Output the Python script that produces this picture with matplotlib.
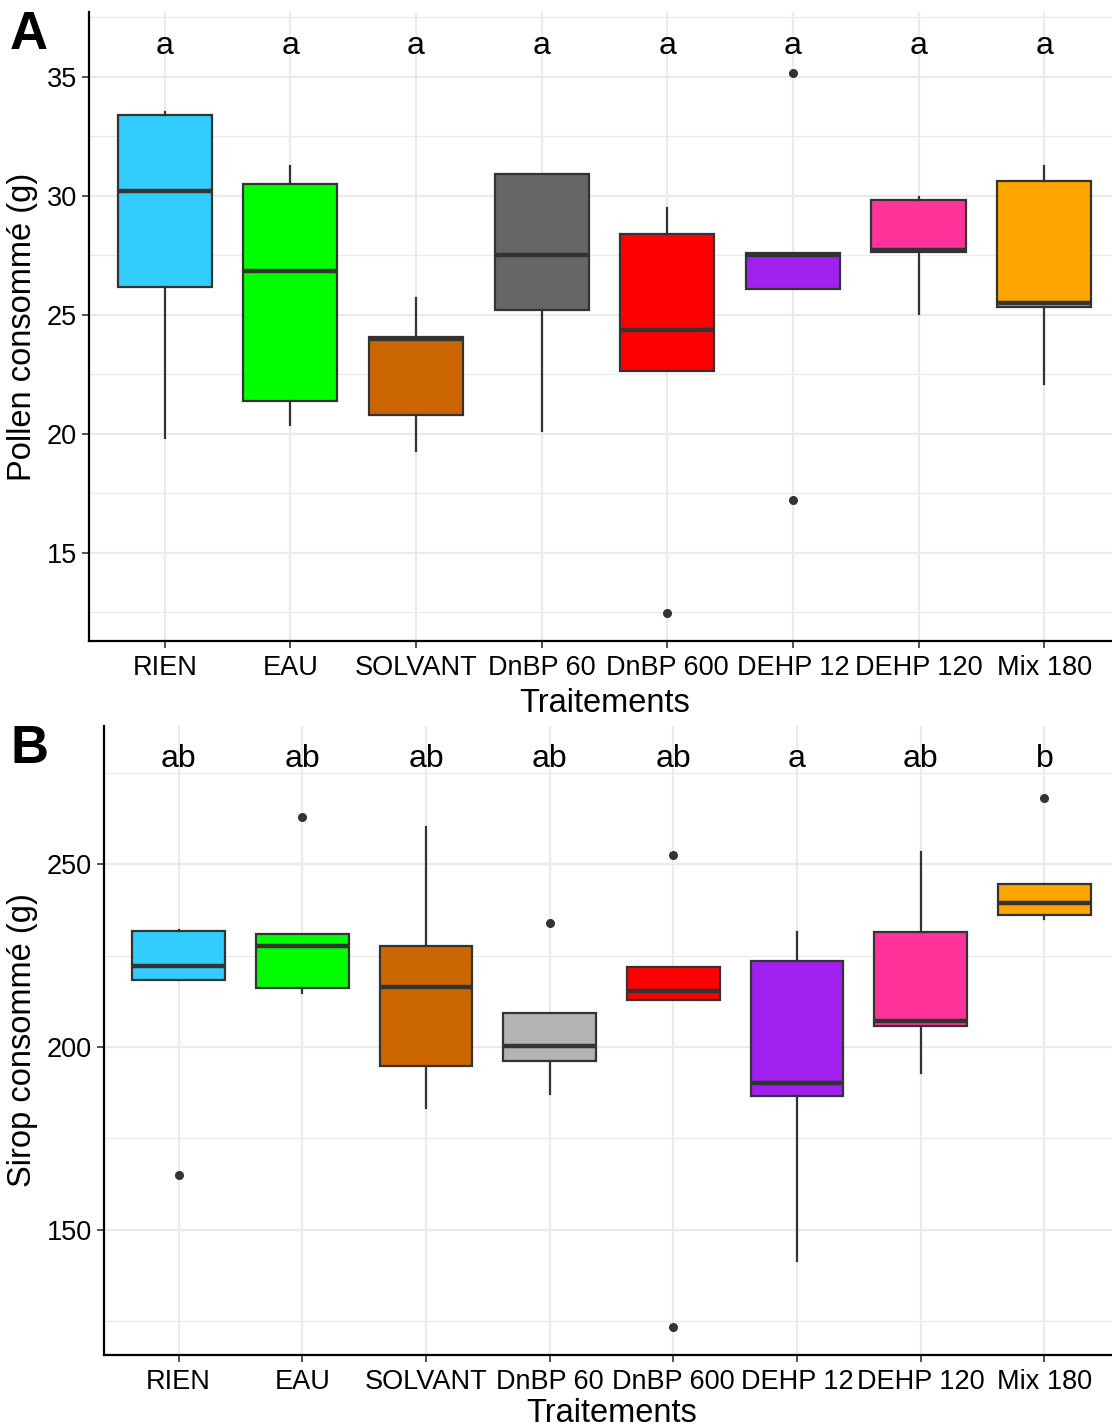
import matplotlib
matplotlib.use("Agg")
import matplotlib.pyplot as plt
from matplotlib.ticker import MultipleLocator

plt.rcParams['font.family'] = ['Liberation Sans', 'DejaVu Sans']

categories = ["RIEN", "EAU", "SOLVANT", "DnBP 60", "DnBP 600", "DEHP 12", "DEHP 120", "Mix 180"]
colors_A = ["#33CCFF", "#00FF00", "#CC6600", "#666666", "#FF0000", "#A020F0", "#FF3399", "#FFA500"]
colors_B = ["#33CCFF", "#00FF00", "#CC6600", "#B3B3B3", "#FF0000", "#A020F0", "#FF3399", "#FFA500"]

# Panel A : Pollen consommé (g)
pollen_whislo = [19.85, 20.38, 19.27, 20.11, 22.66, 26.08, 25.02, 22.10]
pollen_q1     = [26.19, 21.39, 20.80, 25.21, 22.66, 26.08, 27.63, 25.35]
pollen_med    = [30.19, 26.83, 24.00, 27.50, 24.38, 27.53, 27.74, 25.52]
pollen_q3     = [33.42, 30.50, 24.06, 30.92, 28.41, 27.60, 29.81, 30.62]
pollen_whishi = [33.53, 31.24, 25.70, 30.92, 29.50, 27.60, 29.95, 31.24]
pollen_fliers = [[], [], [], [], [12.47], [35.16, 17.23], [], []]
letters_A = ["a", "a", "a", "a", "a", "a", "a", "a"]

# Panel B : Sirop consommé (g)
sirop_whislo = [218.3, 214.8, 183.4, 187.2, 212.7, 141.4, 192.9, 234.9]
sirop_q1     = [218.3, 216.1, 194.9, 196.2, 212.7, 186.5, 205.7, 236.2]
sirop_med    = [222.2, 227.5, 216.5, 200.3, 215.2, 190.2, 207.0, 239.3]
sirop_q3     = [231.6, 231.0, 227.7, 209.3, 221.8, 223.4, 231.3, 244.7]
sirop_whishi = [231.9, 231.0, 260.2, 209.3, 221.8, 231.5, 253.3, 244.7]
sirop_fliers = [[165.05], [262.9], [], [234.0], [252.5, 123.4], [], [], [268.1]]
letters_B = ["ab", "ab", "ab", "ab", "ab", "a", "ab", "b"]

fig = plt.figure(figsize=(11.12, 14.27), dpi=100)

W, H = 1112.0, 1427.0
def axes_px(left, right, top, bottom):
    return fig.add_axes([left / W, 1 - bottom / H, (right - left) / W, (bottom - top) / H])

axA = axes_px(89.3, 1119.6, 12, 641)
axB = axes_px(104.3, 1118.7, 726, 1355)

def draw(ax, whislo, q1, med, q3, whishi, fliers, colors, letters, ylim, major, minor,
         letter_y, ylabel, xlabelpad):
    stats = []
    for i in range(len(categories)):
        stats.append(dict(whislo=whislo[i], q1=q1[i], med=med[i], q3=q3[i],
                          whishi=whishi[i], fliers=fliers[i], label=categories[i]))
    pos = list(range(1, len(categories) + 1))
    ax.set_axisbelow(True)
    bp = ax.bxp(stats, positions=pos, widths=0.75, patch_artist=True, showcaps=False,
                boxprops=dict(edgecolor="#333333", linewidth=1.6),
                medianprops=dict(color="#333333", linewidth=3.2, solid_capstyle='butt'),
                whiskerprops=dict(color="#333333", linewidth=1.6),
                flierprops=dict(marker='o', markerfacecolor="#333333", markeredgecolor="#333333",
                                markersize=5.5, linestyle='none'))
    for patch, c in zip(bp['boxes'], colors):
        patch.set_facecolor(c)
    for i, lab in enumerate(letters):
        ax.text(pos[i], letter_y, lab, ha='center', va='center', fontsize=23, color='black')
    ax.set_xlim(0.4, 8.6)
    ax.set_ylim(*ylim)
    ax.yaxis.set_major_locator(MultipleLocator(major))
    ax.yaxis.set_minor_locator(MultipleLocator(minor))
    ax.grid(True, which='major', color='#EBEBEB', linewidth=1.6)
    ax.grid(True, which='minor', axis='y', color='#EBEBEB', linewidth=1.0)
    ax.tick_params(axis='y', which='minor', length=0)
    ax.tick_params(axis='both', which='major', labelsize=19.5, length=5, width=1.2,
                   color='#333333', labelcolor='black', pad=4)
    ax.tick_params(axis='x', pad=5)
    for s in ['top', 'right']:
        ax.spines[s].set_visible(False)
    for s in ['left', 'bottom']:
        ax.spines[s].set_linewidth(1.6)
        ax.spines[s].set_color('black')
    ax.set_xticks(pos)
    ax.set_xticklabels(categories)
    ax.set_xlabel("Traitements", fontsize=23.5, labelpad=xlabelpad)
    ax.set_ylabel(ylabel, fontsize=23.5, labelpad=6)

draw(axA, pollen_whislo, pollen_q1, pollen_med, pollen_q3, pollen_whishi, pollen_fliers,
     colors_A, letters_A, (11.3, 37.73), 5, 2.5, 36.3, "Pollen consommé (g)", 5)
draw(axB, sirop_whislo, sirop_q1, sirop_med, sirop_q3, sirop_whishi, sirop_fliers,
     colors_B, letters_B, (115.7, 287.8), 50, 25, 278.8, "Sirop consommé (g)", 2)

fig.text(10 / W, 1 - 35 / H, "A", fontsize=38, fontweight='bold', ha='left', va='center')
fig.text(10 / W, 1 - 749 / H, "B", fontsize=38, fontweight='bold', ha='left', va='center')

fig.savefig("out.png", dpi=100)
